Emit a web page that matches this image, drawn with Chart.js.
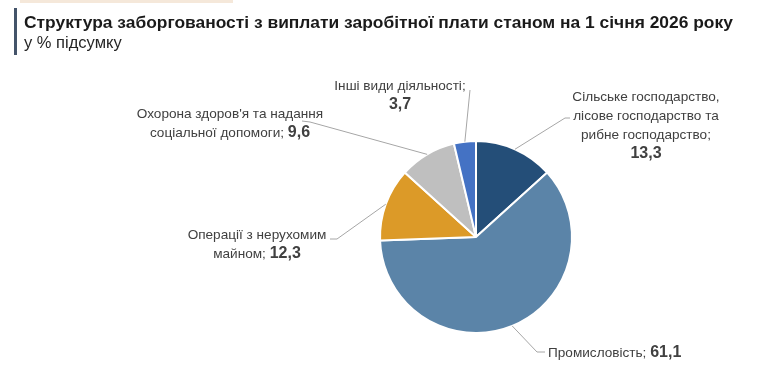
<!DOCTYPE html>
<html>
<head>
<meta charset="utf-8">
<script src="https://cdn.jsdelivr.net/npm/chart.js@4"></script>
<style>
  body { margin: 0; background: #fff; }
  #wrap { position: relative; width: 781px; height: 373px; overflow: hidden; }
  #topline { position: absolute; left: 20px; top: 0; width: 213px; height: 3px; background: #f5e8da; }
  #sidebar { position: absolute; left: 14px; top: 8px; width: 3px; height: 47px; background: #44546a; }
  #title { position: absolute; left: 24px; top: 12px; font: bold 17.4px "Liberation Sans", Arial, sans-serif; color: #1a1a1a; white-space: nowrap; }
  #subtitle { position: absolute; left: 24px; top: 33px; font: 16.5px "Liberation Sans", Arial, sans-serif; color: #262626; white-space: nowrap; }
  #chartBox { position: absolute; left: 0; top: 0; width: 781px; height: 373px; }
</style>
</head>
<body>
<div id="wrap">
  <div id="chartBox"><canvas id="debtChart"></canvas></div>
  <div id="topline"></div>
  <div id="sidebar"></div>
  <div id="title">Структура заборгованості з виплати заробітної плати станом на 1 січня 2026 року</div>
  <div id="subtitle">у % підсумку</div>
</div>
<script>
// data
const categories = [
  'Сільське господарство, лісове господарство та рибне господарство',
  'Промисловість',
  'Операції з нерухомим майном',
  "Охорона здоров'я та надання соціальної допомоги",
  'Інші види діяльності'
];
const values = [13.3, 61.1, 12.3, 9.6, 3.7];
const colors = ['#244e78', '#5b84a8', '#dc9a28', '#bfbfbf', '#4472c4'];

// label placement: words per line, value on own line?, anchor, leader points
const labelLayout = [
  { breaks: [2, 3, 2], own: true, x: 646, y: 97, align: 'center', leader: [[565, 118], [570, 118]] },
  { breaks: [1], own: false, x: 548, y: 353, align: 'left', leader: [[537, 352], [545, 352]] },
  { breaks: [3, 1], own: false, x: 257, y: 235, align: 'center', leader: [[337, 239], [330, 239]] },
  { breaks: [4, 2], own: false, x: 230, y: 114, align: 'center', leader: [[310, 122], [302, 121]] },
  { breaks: [3], own: true, x: 400, y: 86, align: 'center', leader: [[470, 90]] }
];

const textFont = '13.6px "Liberation Sans", Arial, sans-serif';
const valueFont = 'bold 16px "Liberation Sans", Arial, sans-serif';
const lineGap = 19;

function fmt(v) { return v.toFixed(1).replace('.', ','); }

function splitLines(text, breaks) {
  const words = text.split(' ');
  const lines = [];
  let i = 0;
  breaks.forEach(n => { lines.push(words.slice(i, i + n).join(' ')); i += n; });
  if (i < words.length) lines.push(words.slice(i).join(' '));
  return lines;
}

const pieLabels = {
  id: 'pieLabels',
  afterDatasetsDraw(chart) {
    const ctx = chart.ctx;
    const arcs = chart.getDatasetMeta(0).data;
    ctx.save();
    arcs.forEach((arc, i) => {
      const lay = labelLayout[i];
      const p = arc.getProps(['x', 'y', 'startAngle', 'endAngle', 'outerRadius'], true);
      const mid = (p.startAngle + p.endAngle) / 2;
      const sx = p.x + Math.cos(mid) * p.outerRadius;
      const sy = p.y + Math.sin(mid) * p.outerRadius;

      // leader line
      ctx.strokeStyle = '#a6a6a6';
      ctx.lineWidth = 1;
      ctx.beginPath();
      ctx.moveTo(sx, sy);
      lay.leader.forEach(pt => ctx.lineTo(pt[0], pt[1]));
      ctx.stroke();

      // text
      const lines = splitLines(categories[i], lay.breaks);
      lines[lines.length - 1] += ';';
      const val = fmt(values[i]);
      ctx.fillStyle = '#404040';
      ctx.textBaseline = 'middle';
      lines.forEach((ln, k) => {
        const y = lay.y + k * lineGap;
        const last = k === lines.length - 1 && !lay.own;
        ctx.font = textFont;
        const w1 = ctx.measureText(last ? ln + ' ' : ln).width;
        ctx.font = valueFont;
        const w2 = last ? ctx.measureText(val).width : 0;
        let x0 = lay.align === 'center' ? lay.x - (w1 + w2) / 2 : lay.x;
        ctx.textAlign = 'left';
        ctx.font = textFont;
        ctx.fillText(last ? ln + ' ' : ln, x0, y);
        if (last) {
          ctx.font = valueFont;
          ctx.fillText(val, x0 + w1, y);
        }
      });
      if (lay.own) {
        ctx.font = valueFont;
        ctx.textAlign = 'center';
        ctx.fillText(val, lay.x, lay.y + lines.length * lineGap);
      }
    });
    ctx.restore();
  }
};

new Chart(document.getElementById('debtChart').getContext('2d'), {
  type: 'pie',
  data: {
    labels: categories,
    datasets: [{
      data: values,
      backgroundColor: colors,
      borderColor: '#ffffff',
      borderWidth: 2,
      radius: 96
    }]
  },
  options: {
    responsive: true,
    maintainAspectRatio: false,
    animation: false,
    layout: { padding: { left: 380, right: 209, top: 141, bottom: 40 } },
    plugins: {
      legend: { display: false },
      tooltip: { enabled: false }
    }
  },
  plugins: [pieLabels]
});
</script>
</body>
</html>
